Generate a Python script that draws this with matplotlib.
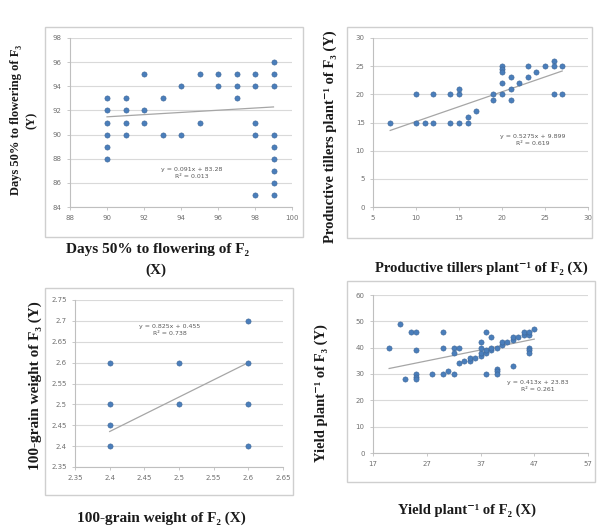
import matplotlib
matplotlib.use("Agg")
import matplotlib.pyplot as plt
from matplotlib.patches import Rectangle
import numpy as np

W, H = 611, 529

# ---------------- data ----------------
# Panel 1: Days 50% to flowering
p1_x = [90, 90, 90, 90, 90, 90, 91, 91, 91, 91, 92, 92, 92, 93, 93, 94, 94, 95, 95,
        96, 96, 97, 97, 97, 98, 98, 98, 98, 98, 99, 99, 99, 99, 99, 99, 99, 99, 99]
p1_y = [93, 92, 91, 90, 89, 88, 93, 92, 91, 90, 95, 92, 91, 93, 90, 94, 90, 95, 91,
        95, 94, 95, 94, 93, 95, 94, 91, 90, 85, 96, 95, 94, 90, 89, 88, 87, 86, 85]
p1_fit = [0.091, 83.28]
p1_eq = "y = 0.091x + 83.28\nR² = 0.013"

# Panel 2: Productive tillers
p2_x = [7, 10, 10, 11, 12, 12, 14, 14, 15, 15, 15, 16, 16, 17, 19, 19, 20, 20, 20, 20, 20,
        21, 21, 21, 22, 23, 23, 24, 25, 26, 26, 26, 27, 27]
p2_y = [15, 20, 15, 15, 15, 20, 20, 15, 15, 20, 21, 15, 16, 17, 20, 19, 25, 24.5, 24, 22, 20,
        23, 21, 19, 22, 25, 23, 24, 25, 26, 25, 20, 25, 20]
p2_fit = [0.5275, 9.899]
p2_eq = "y = 0.5275x + 9.899\nR² = 0.619"

# Panel 3: 100-grain weight
p3_x = [2.4, 2.4, 2.4, 2.4, 2.5, 2.5, 2.6, 2.6, 2.6, 2.6]
p3_y = [2.6, 2.5, 2.45, 2.4, 2.6, 2.5, 2.7, 2.6, 2.5, 2.4]
p3_fit = [0.825, 0.455]
p3_eq = "y = 0.825x + 0.455\nR² = 0.738"

# Panel 4: Yield plant-1
p4_x = [20, 22, 23, 24, 25, 25, 25, 25, 25, 28, 30, 30, 30, 32, 33, 32, 32, 31,
        33, 34, 35, 35, 36, 37, 37, 38, 38, 39, 39, 40, 41, 41, 42, 43, 43, 44, 45, 45, 46, 46, 47,
        37, 37, 38, 39, 38, 40, 40, 40, 43, 46, 46, 46]
p4_y = [40, 49, 28, 46, 46, 39, 30, 29, 28, 30, 30, 46, 40, 40, 40, 38, 30, 31,
        34, 35, 35, 36, 36, 37, 38, 38, 39, 39, 40, 40, 41, 42, 42, 43, 44, 44, 45, 46, 45, 46, 47,
        42, 40, 46, 44, 30, 32, 31, 30, 33, 40, 39, 38]
p4_fit = [0.413, 23.83]
p4_eq = "y = 0.413x + 23.83\nR² = 0.261"

panels = [
    dict(x=p1_x, y=p1_y, fit=p1_fit, eq=p1_eq, fr=(90, 99),
         xlim=(88, 100), xt=[88, 90, 92, 94, 96, 98, 100], xtl=None,
         ylim=(84, 98), yt=[84, 86, 88, 90, 92, 94, 96, 98], ytl=None,
         box=(70, 38, 292, 207), frame=(45, 27, 303, 237), eqpos=(0.55, 0.2)),
    dict(x=p2_x, y=p2_y, fit=p2_fit, eq=p2_eq, fr=(7, 27),
         xlim=(5, 30), xt=[5, 10, 15, 20, 25, 30], xtl=None,
         ylim=(0, 30), yt=[0, 5, 10, 15, 20, 25, 30], ytl=None,
         box=(373, 38, 588, 207), frame=(347, 27, 592, 238), eqpos=(0.744, 0.396)),
    dict(x=p3_x, y=p3_y, fit=p3_fit, eq=p3_eq, fr=(2.4, 2.6),
         xlim=(2.35, 2.65), xt=[2.35, 2.4, 2.45, 2.5, 2.55, 2.6, 2.65],
         xtl=["2.35", "2.4", "2.45", "2.5", "2.55", "2.6", "2.65"],
         ylim=(2.35, 2.75), yt=[2.35, 2.4, 2.45, 2.5, 2.55, 2.6, 2.65, 2.7, 2.75],
         ytl=["2.35", "2.4", "2.45", "2.5", "2.55", "2.6", "2.65", "2.7", "2.75"],
         box=(75, 300, 283, 467), frame=(45, 288, 293, 495), eqpos=(0.457, 0.82)),
    dict(x=p4_x, y=p4_y, fit=p4_fit, eq=p4_eq, fr=(20, 47),
         xlim=(17, 57), xt=[17, 27, 37, 47, 57], xtl=None,
         ylim=(0, 60), yt=[0, 10, 20, 30, 40, 50, 60], ytl=None,
         box=(373, 295, 588, 453), frame=(347, 281, 595, 482), eqpos=(0.767, 0.424)),
]

fig = plt.figure(figsize=(W / 100, H / 100), dpi=100)
fig.patch.set_facecolor("white")

serif = ["Liberation Serif", "DejaVu Serif"]
tick_c = "#707070"
grid_c = "#d9d9d9"
pt_c = "#4a7ebb"

for p in panels:
    fx0, fy0, fx1, fy1 = p["frame"]
    fig.add_artist(Rectangle((fx0 / W, 1 - fy1 / H), (fx1 - fx0) / W, (fy1 - fy0) / H,
                             transform=fig.transFigure, fill=False,
                             edgecolor="#cfcfcf", lw=1.0))
    x0, y0, x1, y1 = p["box"]
    ax = fig.add_axes([x0 / W, 1 - y1 / H, (x1 - x0) / W, (y1 - y0) / H])
    ax.set_xlim(*p["xlim"])
    ax.set_ylim(*p["ylim"])
    ax.set_xticks(p["xt"])
    ax.set_yticks(p["yt"])
    if p["xtl"]:
        ax.set_xticklabels(p["xtl"])
    if p["ytl"]:
        ax.set_yticklabels(p["ytl"])
    for s in ["top", "right"]:
        ax.spines[s].set_visible(False)
    for s in ["left", "bottom"]:
        ax.spines[s].set_color("#bfbfbf")
        ax.spines[s].set_linewidth(0.8)
    ax.yaxis.grid(True, color=grid_c, lw=0.8)
    ax.set_axisbelow(True)
    ax.tick_params(labelsize=5, colors=tick_c, length=2, width=0.6, pad=4)
    ax.tick_params(axis="both", color="#bfbfbf")
    ax.scatter(p["x"], p["y"], s=14, color=pt_c, edgecolors="#3d6596",
               linewidths=0.4, zorder=3, clip_on=False)
    fx = np.array(p["fr"])
    ax.plot(fx, p["fit"][0] * fx + p["fit"][1], color="#a6a6a6", lw=0.9, zorder=2)
    ax.text(p["eqpos"][0], p["eqpos"][1], p["eq"], transform=ax.transAxes,
            ha="center", va="center", fontsize=4.5, color="#595959", linespacing=1.4)


def ftext(x, y, s, **kw):
    fig.text(x / W, 1 - y / H, s, family=serif, weight="bold", ha="center",
             va="center", color="#1a1a1a", **kw)


# Panel 1 labels
ftext(24, 120, "Days 50% to flowering of F₃\n(Y)", fontsize=9, rotation=90, linespacing=1.5)
ftext(157, 249, "Days 50% to flowering of F₂", fontsize=11)
ftext(156, 270, "(X)", fontsize=11)
# Panel 2 labels
ftext(330, 137, "Productive tillers plant⁻¹ of F₃ (Y)", fontsize=10.5, rotation=90)
ftext(481, 268, "Productive tillers plant⁻¹ of F₂ (X)", fontsize=10.5)
# Panel 3 labels
ftext(35, 386, "100-grain weight of F₃ (Y)", fontsize=11, rotation=90)
ftext(161, 518, "100-grain weight of F₂ (X)", fontsize=11)
# Panel 4 labels
ftext(321, 393, "Yield plant⁻¹ of F₃ (Y)", fontsize=10.5, rotation=90)
ftext(467, 510, "Yield plant⁻¹ of F₂ (X)", fontsize=10.5)

fig.savefig("out.png", dpi=100, facecolor="white")
